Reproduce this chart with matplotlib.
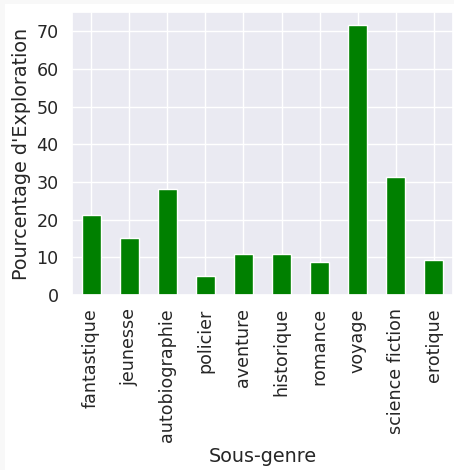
import numpy as np
import pandas as pd
import matplotlib
matplotlib.use("Agg")
import matplotlib.pyplot as plt
import seaborn as sns
from matplotlib.patches import Rectangle
from matplotlib.ticker import MultipleLocator

genres = ["fantastique", "jeunesse", "autobiographie", "policier", "aventure",
          "historique", "romance", "voyage", "science fiction", "erotique"]
exploration = [21.1, 15.2, 28.0, 5.0, 10.9, 11.0, 8.7, 71.5, 31.2, 9.3]

sns.set_theme(style="darkgrid", font_scale=1.15)

fig = plt.figure(figsize=(4.54, 4.70), dpi=100)
fig.patch.set_facecolor("#f8f8f8")
# white canvas inside a thin grey frame on the left and top
fig.add_artist(Rectangle((5 / 454, 0), 1, 1 - 4 / 470, transform=fig.transFigure,
                         facecolor="white", edgecolor="none", zorder=-1))
ax = fig.add_axes([72 / 454, 1 - 295 / 470, 381 / 454, 283 / 470])

s = pd.Series(exploration, index=genres)
s.plot(kind="bar", color="green", ax=ax)
ax.yaxis.set_major_locator(MultipleLocator(10))
ax.set_xlabel("Sous-genre")
ax.set_ylabel("Pourcentage d'Exploration")

fig.savefig("out.png", dpi=100, facecolor=fig.get_facecolor())
